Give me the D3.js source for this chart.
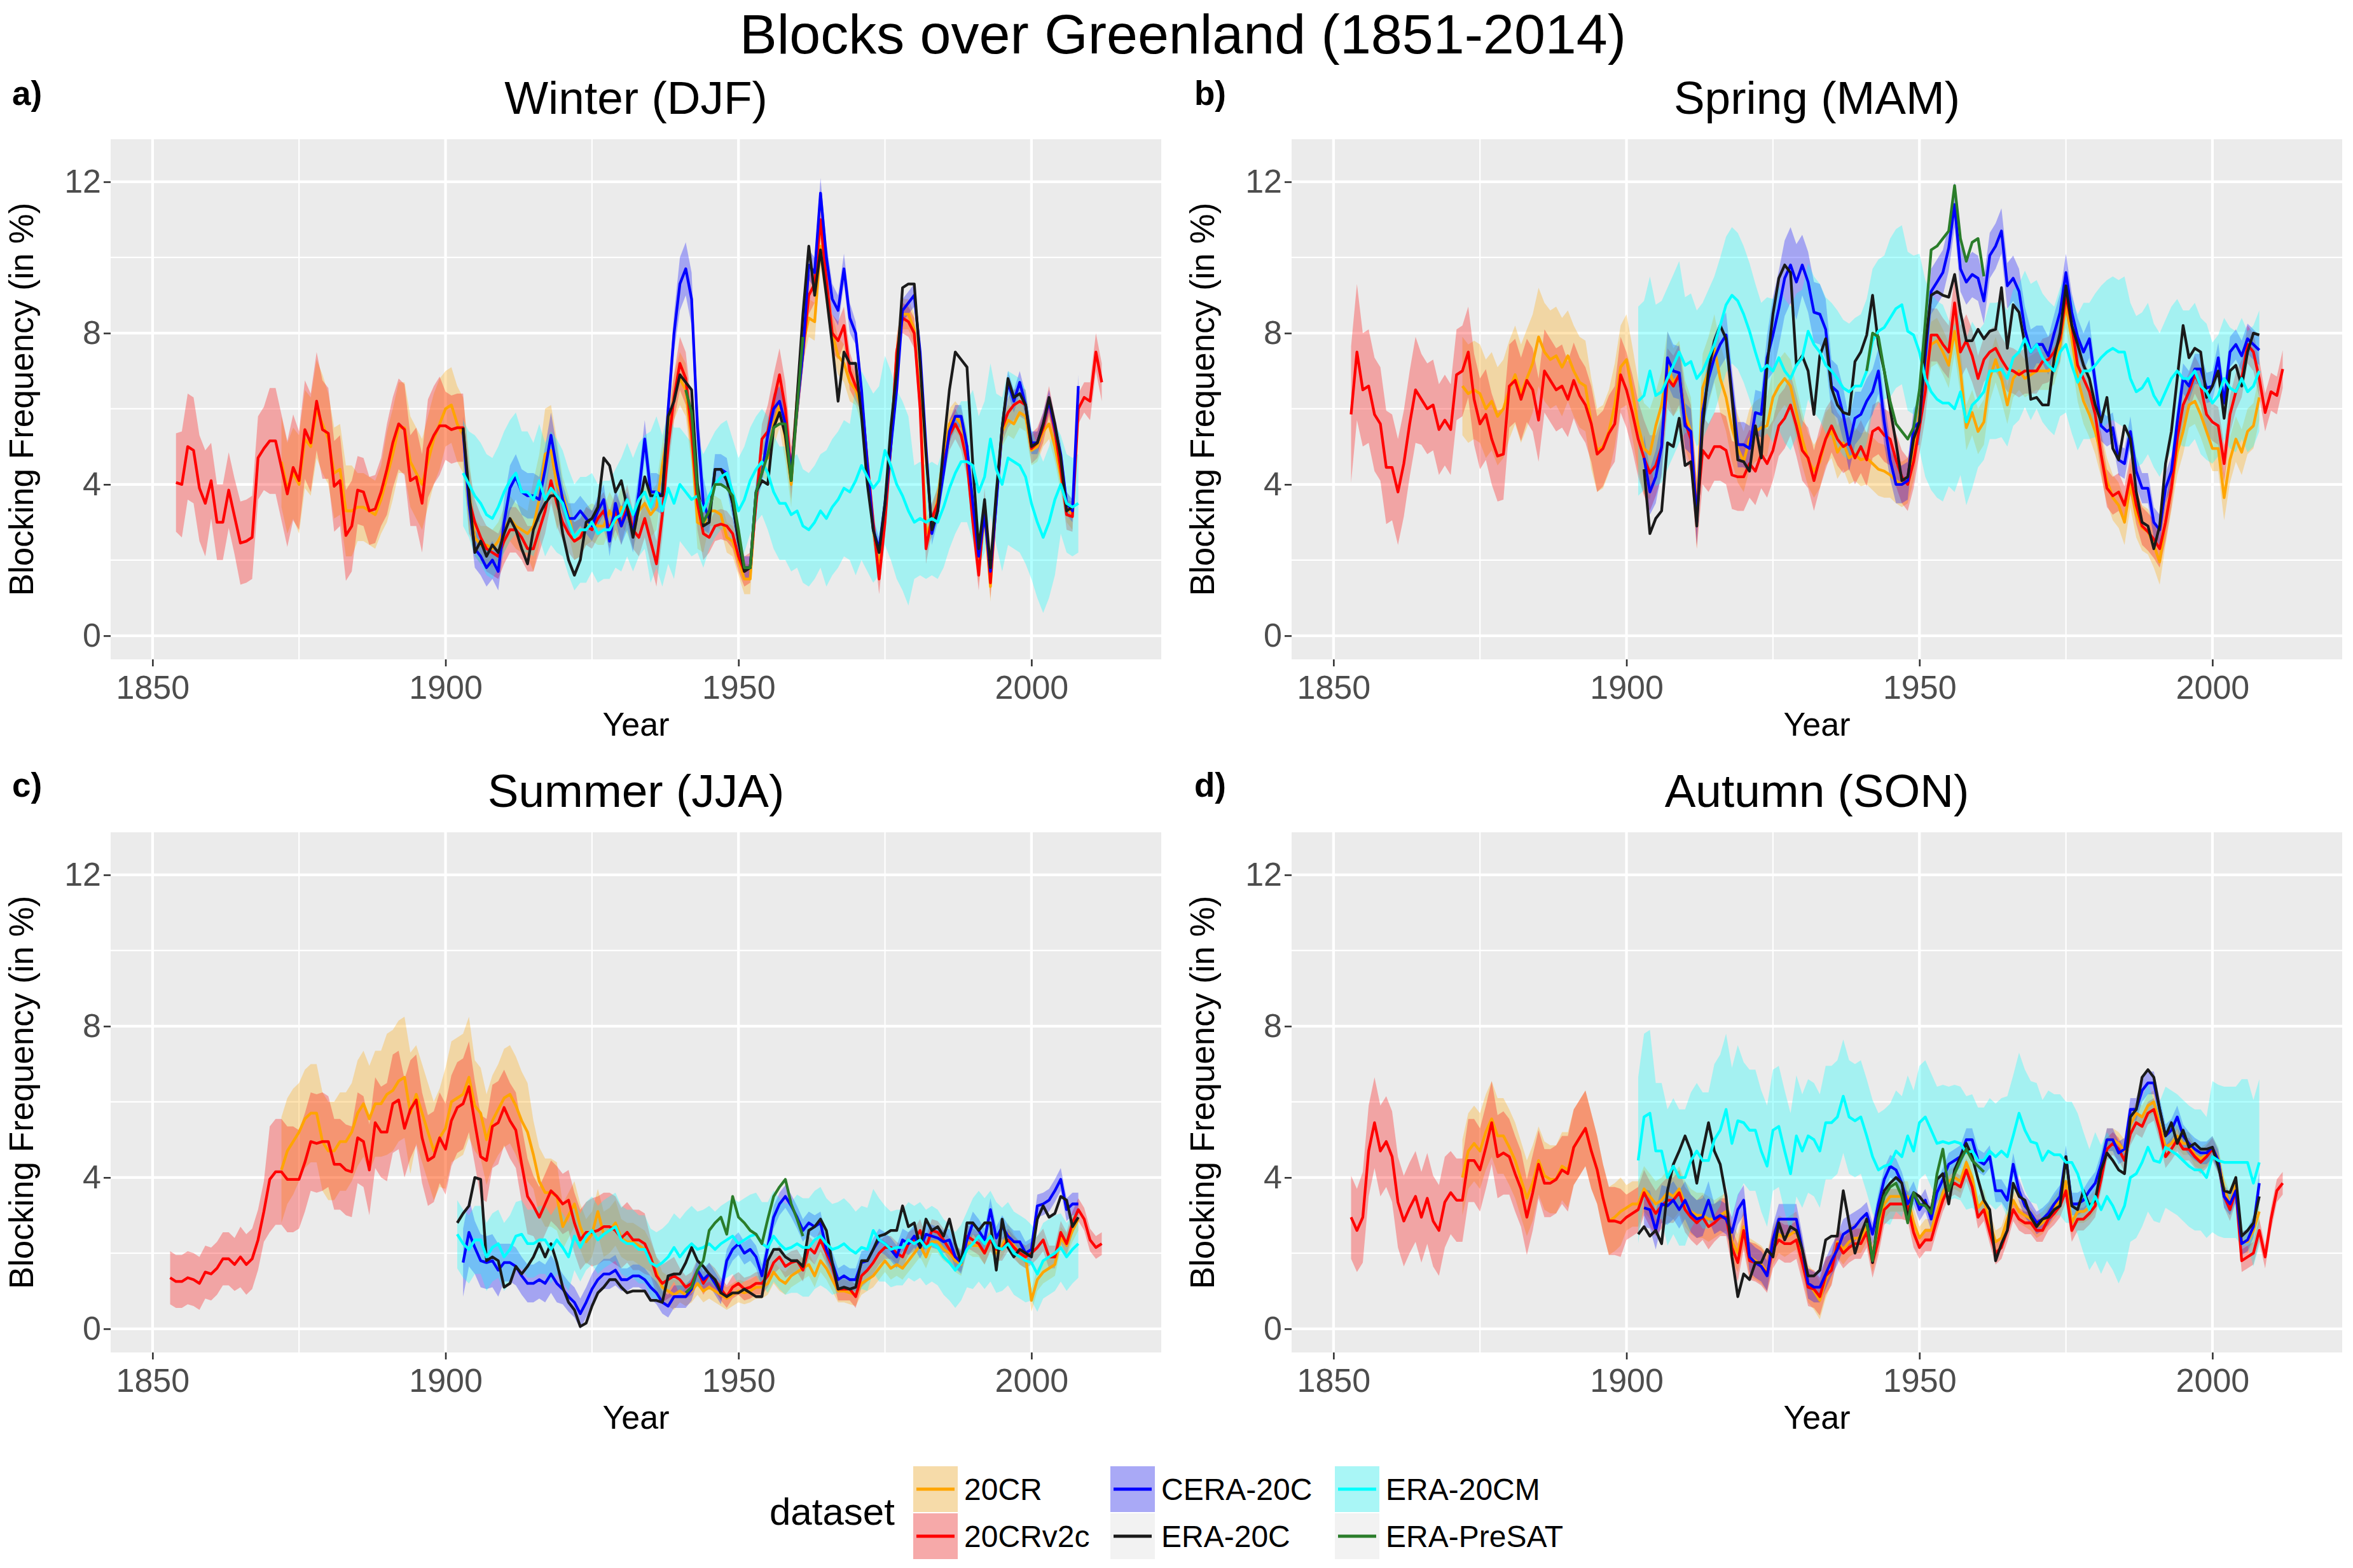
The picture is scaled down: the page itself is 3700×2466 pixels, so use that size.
<!DOCTYPE html>
<html><head><meta charset="utf-8">
<script src="https://cdn.jsdelivr.net/npm/d3@7"></script>
<style>html,body{margin:0;padding:0;background:#fff}svg{display:block}</style>
</head><body>
<svg id="chart" width="3700" height="2466"></svg>
<script>
// ---------------- DATA ----------------
const mainTitle = "Blocks over Greenland (1851-2014)";
const seasons = ["Winter (DJF)", "Spring (MAM)", "Summer (JJA)", "Autumn (SON)"];
const tags = ["a)", "b)", "c)", "d)"];
const datasets = ["20CR", "20CRv2c", "CERA-20C", "ERA-20C", "ERA-20CM", "ERA-PreSAT"];
const xTickLabels = [1850, 1900, 1950, 2000];
const yTickLabels = [0, 4, 8, 12];
const xMinorBreaks = [1875, 1925, 1975];
const yMinorBreaks = [2, 6, 10];
// ribbon half-widths are read per 5-year block, starting with block 1850-1854
const spreadBlockStart = 1850, spreadBlockYears = 5;

// ----- Winter (DJF) -----
const djf_first = [1872, 1854, 1903, 1903, 1903, 1941];
const djf_20cr = [4.6,3.9,4.3,4.0,5.2,5.0,6.0,5.6,5.2,4.3,
4.4,3.3,3.3,3.4,3.4,3.3,3.2,3.6,4.2,4.8,
5.5,5.5,4.6,4.3,4.0,4.6,5.2,5.6,6.0,6.1,
5.6,5.3,3.8,2.6,2.4,2.4,2.3,2.5,2.8,3.1,
2.9,2.8,2.7,2.9,3.6,4.8,4.9,4.0,3.7,3.2,
2.5,2.6,2.9,3.0,2.9,2.9,3.3,3.0,3.4,3.2,
2.8,3.3,3.5,3.2,3.4,4.5,5.5,6.3,6.8,6.5,
5.2,3.0,2.9,3.3,3.3,3.2,2.6,2.5,2.0,1.5,
1.5,3.7,4.6,4.7,5.6,6.1,5.2,4.0,6.3,7.7,
8.4,8.3,10.3,9.2,8.0,7.4,7.2,6.7,6.5,6.0,
4.4,2.8,1.8,3.4,5.0,7.5,8.5,8.5,8.1,6.2,
2.7,3.0,3.6,4.8,5.6,5.8,5.6,5.0,3.4,1.8,
3.2,1.3,3.6,5.4,5.7,5.6,5.9,5.8,4.9,5.0,
5.4,5.6,5.0,4.2,3.4,3.2];
const djf_v2c = [4.05,4.0,5.0,4.9,3.9,3.5,4.1,3.0,3.0,3.85,
3.15,2.45,2.5,2.6,4.7,4.95,5.15,5.15,4.45,3.75,
4.45,4.1,5.45,5.1,6.2,5.45,5.35,3.95,4.1,2.65,
2.9,3.85,3.8,3.3,3.35,3.8,4.4,5.1,5.6,5.45,
4.1,4.2,3.5,4.95,5.3,5.55,5.55,5.45,5.5,5.5,
3.6,3.0,2.6,2.3,2.2,2.1,2.5,2.8,2.8,2.6,
2.3,2.3,2.8,3.3,4.1,3.5,3.0,2.7,2.5,2.6,
2.9,2.8,3.1,3.3,2.8,3.3,2.9,3.5,2.8,2.6,
3.1,2.5,1.9,3.2,5.0,6.3,7.2,6.8,5.4,3.5,
2.7,2.6,2.9,2.95,2.9,2.7,2.1,1.7,1.8,3.5,
5.2,5.4,6.2,6.9,6.0,4.3,6.0,7.5,9.0,9.3,
11.0,9.4,8.0,7.8,8.2,7.0,6.6,6.3,4.6,3.0,
1.5,3.0,5.0,7.5,8.4,8.3,8.0,6.0,2.3,3.1,
3.5,4.5,5.3,5.6,5.3,4.6,3.0,1.6,3.5,1.4,
3.6,5.5,5.9,6.1,6.2,6.1,4.95,5.1,5.5,6.2,
5.4,4.4,3.2,3.15,6.0,6.3,6.2,7.5,6.7];
const djf_cera = [5.4,3.5,2.3,2.1,1.8,2.0,1.7,3.0,3.9,4.2,
3.8,3.7,3.7,3.6,4.4,5.3,4.4,3.6,3.1,3.1,
3.3,3.1,2.9,3.3,3.6,2.5,3.5,2.9,3.3,2.7,
3.8,5.2,3.8,3.8,3.7,6.0,8.0,9.3,9.7,8.9,
5.5,3.5,3.1,4.4,4.4,4.3,3.5,2.5,1.8,1.8,
3.8,4.3,5.3,6.0,6.2,5.6,4.3,6.0,7.5,9.8,
9.6,11.7,10.0,8.9,8.6,9.7,8.4,8.0,6.5,4.5,
2.8,2.3,3.5,5.0,6.5,8.6,8.8,9.0,7.5,5.0,
2.7,3.3,4.3,5.4,5.8,5.8,5.0,3.5,2.1,3.2,
1.7,3.5,5.5,6.7,6.2,6.7,6.1,5.1,5.1,5.6,
6.2,5.5,4.8,3.5,3.3,6.6];
const djf_era20c = [5.5,3.8,2.2,2.5,2.1,2.4,2.2,2.7,3.1,2.8,
2.3,1.9,2.8,3.2,3.5,3.7,3.7,2.7,2.0,1.6,
2.0,3.0,3.1,3.4,4.7,4.5,3.8,4.1,3.4,2.6,
3.4,4.2,3.7,3.7,3.7,5.8,6.2,6.9,6.7,6.5,
4.0,2.9,3.0,4.4,4.4,4.1,3.5,2.5,1.7,1.8,
3.8,4.1,4.0,5.5,5.9,5.3,4.1,6.3,8.5,10.3,
9.0,10.2,9.0,7.7,6.2,7.5,7.2,7.2,5.8,4.0,
2.8,2.2,3.5,5.5,7.0,9.2,9.3,9.3,7.2,4.8,
2.8,3.3,5.0,6.5,7.5,7.3,7.1,4.5,2.3,3.6,
1.8,3.8,5.5,6.8,6.3,6.4,6.1,5.0,5.1,5.6,
6.3,5.6,4.7,3.3,3.4];
const djf_20cm = [4.3,4.0,3.7,3.5,3.2,3.1,3.4,3.8,4.1,4.3,
3.8,3.8,3.6,4.1,3.6,3.9,3.7,3.5,3.0,2.6,
2.8,2.8,3.0,2.7,2.8,2.8,3.1,3.2,3.6,3.2,
3.6,3.8,3.4,3.8,3.3,3.9,3.5,4.0,3.8,3.6,
3.7,3.3,3.7,4.0,4.2,4.3,3.8,3.3,3.6,4.1,
4.4,4.6,4.3,3.8,3.5,3.5,3.2,3.3,2.9,2.8,
3.0,3.3,3.1,3.4,3.6,3.9,3.8,4.1,4.5,4.2,
3.9,4.1,4.9,4.5,4.0,3.7,3.3,3.0,3.1,3.0,
3.1,3.0,3.4,3.9,4.3,4.6,4.6,4.5,3.8,4.2,
5.2,4.4,4.0,4.7,4.6,4.5,4.2,3.5,3.0,2.6,
3.0,3.6,4.0,3.5,3.4,3.5];
const djf_presat = [6.5,5.9,3.8,3.0,3.3,4.0,4.0,3.9,3.7,2.8,1.8,1.8,3.8,4.3,4.8,5.5,5.6,5.6,4.1,6.0,7.9];
const djf_20cr_sp = [0,0,0,0,1.2,1.3,1.2,0.9,1.2,1.2,1.0,0.5,0.6,1.2,0.5,0.5,0.5,0.6,0.7,0.4,0.4,0.6,0.5,0.5,0.4,0.4,0.4,0.4,0.4,0.4,0.4,0.4,0.4];
const djf_v2c_sp = [1.3,1.4,1.0,1.1,1.4,1.3,1.2,0.9,1.2,1.3,0.9,0.6,0.6,0.6,0.5,0.5,0.5,0.6,0.7,0.4,0.4,0.7,0.5,0.5,0.4,0.4,0.4,0.4,0.4,0.4,0.4,0.4,0.5];
const djf_cera_sp = [0,0,0,0,0,0,0,0,0,0,0.4,0.5,0.6,0.6,0.4,0.4,0.5,0.5,0.7,0.4,0.3,0.4,0.4,0.4,0.3,0.3,0.3,0.3,0.3,0.3,0.3,0.3,0.3];
const djf_20cm_sp = [0,0,0,0,0,0,0,0,0,0,1.4,1.6,1.6,1.5,1.4,1.3,1.5,2.0,1.5,1.4,1.4,1.5,1.5,1.8,2.5,2.5,1.5,1.6,2.0,2.3,2.0,1.3,1.3];

// ----- Spring (MAM) -----
const mam_first = [1872, 1853, 1903, 1903, 1902, 1941];
const mam_20cr = [6.6,6.4,6.5,6.4,6.0,6.2,5.8,6.0,6.5,6.9,
6.4,6.8,7.2,7.9,7.5,7.3,7.4,7.1,7.4,7.0,
6.7,6.6,5.6,4.9,5.0,5.4,6.1,7.1,7.3,6.45,
5.55,4.95,4.8,5.55,6.1,7.15,6.7,6.9,5.85,5.4,
3.2,6.55,7.0,7.6,6.8,6.3,5.5,4.95,4.6,5.2,
5.4,5.5,5.55,6.3,6.6,6.8,6.6,5.9,5.2,4.65,
4.35,4.6,5.2,5.4,4.85,5.1,4.7,4.8,4.65,4.7,
4.55,4.4,4.35,4.25,4.1,4.0,4.1,4.7,5.9,7.0,
7.7,7.8,7.5,7.15,8.05,7.0,5.5,5.9,5.4,5.65,
6.8,7.3,6.8,6.1,6.8,7.0,6.8,6.9,7.0,7.0,
7.0,7.15,7.7,8.75,7.85,6.8,6.2,5.85,5.4,4.8,
4.1,3.65,3.45,3.0,4.0,3.2,2.85,2.75,2.4,1.95,
3.0,3.9,4.85,5.4,6.1,6.2,5.85,5.4,4.95,4.95,
3.65,4.65,5.2,4.85,5.4,5.55,6.3];
const mam_v2c = [5.85,7.5,6.5,6.6,5.85,5.6,4.45,4.45,3.8,4.55,
5.6,6.5,6.25,6.0,6.1,5.45,5.7,5.45,6.9,7.0,
7.5,6.25,5.6,5.85,5.2,4.75,4.8,6.6,6.75,6.25,
6.75,6.5,5.7,7.0,6.75,6.5,6.6,6.25,6.75,6.35,
6.1,5.6,4.8,4.95,5.35,5.6,6.9,6.5,5.9,5.2,
4.7,4.3,4.5,5.0,6.8,6.6,6.9,5.65,5.2,3.2,
4.9,4.7,5.0,5.0,4.9,4.25,4.2,4.2,4.55,4.35,
4.8,4.55,4.9,5.55,5.75,6.1,5.55,4.9,4.7,4.1,
4.7,5.2,5.55,5.2,5.0,5.1,4.7,5.0,4.65,5.4,
5.5,5.3,5.2,4.65,4.2,4.0,4.6,5.5,6.45,7.95,
7.95,7.7,7.5,8.8,7.5,7.8,7.4,6.8,7.3,7.5,
7.6,7.3,7.05,7.0,6.9,7.0,7.0,7.0,7.25,7.3,
7.5,7.85,9.0,8.2,7.15,6.8,6.45,5.85,4.8,3.9,
3.7,3.8,3.45,4.25,3.45,2.9,2.75,2.55,2.3,3.0,
3.9,5.2,6.1,6.45,6.9,6.6,5.85,5.65,5.55,4.55,
5.85,6.45,6.8,7.7,7.5,6.8,5.9,6.45,6.35,7.05];
const mam_cera = [4.7,3.8,4.2,5.0,7.35,7.0,6.95,5.55,5.4,3.0,
5.9,6.8,7.35,7.7,7.95,6.45,5.05,5.05,4.95,5.9,
5.85,7.35,7.95,8.65,9.45,9.8,9.35,9.8,9.35,8.55,
8.5,8.1,6.6,6.45,5.85,5.05,5.75,5.85,6.2,6.45,
7.0,5.65,4.65,4.0,4.0,4.1,5.5,5.65,7.35,9.1,
9.35,9.6,10.25,11.4,9.7,9.35,9.55,9.45,8.85,10.05,
10.3,10.7,9.25,9.45,9.1,8.1,7.5,7.7,7.7,7.4,
8.0,8.55,9.6,8.55,7.9,7.5,7.85,6.7,5.55,5.4,
5.5,4.65,4.55,5.4,4.35,3.9,3.9,3.0,2.8,3.9,
4.35,5.65,6.8,6.6,7.05,7.05,6.55,6.6,7.35,6.15,
7.5,7.7,7.4,7.85,7.7,7.55];
const mam_era20c = [4.4,2.7,3.1,3.3,5.1,5.0,5.75,4.5,4.6,2.9,
5.55,7.0,7.8,8.2,7.85,6.3,4.65,4.6,4.35,5.55,
4.7,7.15,8.5,9.45,9.8,9.6,7.15,7.4,7.0,5.85,
7.4,7.85,6.55,6.1,5.9,5.85,7.25,7.5,7.95,9.0,
7.7,7.0,6.0,5.1,4.1,4.2,5.2,5.65,7.7,9.0,
9.1,9.0,8.95,9.55,8.55,7.8,7.8,8.1,7.85,8.05,
8.1,9.2,7.6,8.75,8.55,7.7,6.25,6.3,6.1,6.1,
7.35,8.0,9.25,8.2,7.7,7.15,6.8,6.1,5.65,6.3,
4.95,4.65,5.55,5.2,3.8,3.0,2.9,2.3,2.9,4.55,
5.4,6.8,8.2,7.35,7.6,7.5,6.3,6.6,7.0,5.75,
7.0,7.15,6.6,7.5,8.0,7.95];
const mam_20cm = [6.2,6.35,7.0,6.35,6.45,6.8,7.15,7.5,7.15,7.25,
6.8,7.0,7.35,7.7,8.2,8.75,9.0,8.85,8.5,8.05,
7.5,7.0,7.15,7.0,7.35,7.0,6.8,7.15,7.35,8.05,
7.7,7.5,7.15,7.0,6.8,6.55,6.45,6.6,6.6,7.0,
7.8,8.05,8.15,8.4,8.65,8.75,8.05,7.95,7.5,6.8,
6.45,6.25,6.15,6.15,6.0,6.45,5.65,6.1,6.25,6.45,
7.0,7.0,7.05,6.8,7.35,7.5,7.85,7.5,7.7,7.35,
7.15,7.0,7.5,7.7,7.15,6.7,7.0,7.0,7.15,7.35,
7.5,7.6,7.5,7.5,6.8,6.45,6.55,6.8,6.35,6.1,
6.45,6.8,7.0,6.8,6.8,7.0,6.6,6.45,6.15,6.35,
6.8,6.55,6.45,6.8,6.45,6.6,7.0];
const mam_presat = [7.0,8.0,7.9,7.0,6.2,5.6,5.4,5.2,5.5,6.5,8.3,10.2,10.3,10.5,10.7,11.9,10.5,9.9,10.4,10.5,9.5];
const mam_20cr_sp = [0,0,0,0,1.3,1.3,1.3,1.3,1.2,1.1,1.2,0.9,0.9,0.9,0.8,0.7,0.7,0.7,0.7,0.6,0.6,0.6,0.6,0.5,0.5,0.6,0.6,0.6,0.6,0.6,0.6,0.6,0.6];
const mam_v2c_sp = [1.8,1.5,1.4,1.2,1.2,1.2,1.1,1.1,1.0,1.0,1.0,0.8,0.9,0.9,0.9,0.8,0.8,0.7,0.7,0.7,0.7,0.7,0.6,0.6,0.6,0.5,0.5,0.5,0.5,0.5,0.5,0.5,0.5];
const mam_cera_sp = [0,0,0,0,0,0,0,0,0,0,0.6,0.7,0.6,0.6,0.6,1.0,0.8,0.7,0.6,0.5,0.6,0.6,0.6,0.6,0.5,0.5,0.4,0.4,0.4,0.4,0.4,0.4,0.4];
const mam_20cm_sp = [0,0,0,0,0,0,0,0,0,0,2.5,2.4,1.8,1.8,1.8,1.9,1.8,1.8,1.9,2.1,2.6,2.2,1.8,1.8,1.7,1.8,1.9,2.0,1.9,1.8,1.6,1.6,1.6];

// ----- Summer (JJA) -----
const jja_first = [1872, 1853, 1903, 1902, 1902, 1941];
const jja_20cr = [4.2,4.7,4.95,5.2,5.55,5.7,5.7,4.95,4.7,4.7,
4.95,4.95,5.2,5.7,5.95,5.55,5.95,5.95,6.2,6.3,
6.55,6.65,5.7,6.2,5.7,5.2,4.7,5.05,5.3,6.0,
6.1,6.2,6.65,5.9,5.7,5.0,5.5,5.8,6.1,6.2,
5.9,5.5,5.2,4.6,3.9,3.6,3.6,3.5,2.7,3.0,
3.3,2.7,2.3,2.5,3.1,2.5,2.6,2.8,2.4,2.3,
2.3,2.2,2.1,1.9,1.5,1.1,1.0,0.9,1.0,0.9,
1.0,1.2,1.0,1.1,1.0,0.9,0.8,0.9,1.0,0.95,
1.0,1.1,1.1,1.2,1.5,1.3,1.2,1.4,1.5,1.6,
1.7,1.4,1.8,1.6,1.3,1.0,1.0,0.95,0.9,1.2,
1.3,1.4,1.6,1.8,1.6,1.7,1.6,1.8,2.0,2.2,
1.9,2.3,2.3,2.1,2.0,1.8,1.7,2.3,2.2,2.2,
2.0,2.4,2.0,2.2,2.5,2.2,2.0,1.9,0.75,1.3,
1.5,1.6,1.7,2.4,2.2,2.6,2.9];
const jja_v2c = [1.35,1.25,1.25,1.35,1.3,1.2,1.5,1.45,1.6,1.85,
1.85,1.7,1.9,1.7,1.85,2.35,3.1,3.95,4.15,4.15,
3.95,3.95,3.95,4.4,4.95,4.9,4.95,4.95,4.35,4.35,
4.2,4.15,5.05,4.95,4.2,5.45,5.2,5.2,5.95,6.05,
5.3,5.8,6.05,5.05,4.45,4.55,5.05,4.75,5.5,5.85,
5.95,6.4,5.45,4.55,4.45,5.35,5.45,5.85,5.5,5.25,
4.35,3.5,3.25,2.95,3.3,3.65,3.5,3.3,3.4,2.8,
2.35,2.55,2.55,2.6,2.7,2.7,2.6,2.4,2.55,2.35,
2.35,2.25,1.9,1.4,1.2,1.3,1.4,1.3,1.1,1.2,
1.55,1.2,1.45,1.3,1.05,0.85,1.1,1.2,1.05,1.1,
1.2,1.2,1.4,1.75,1.9,1.65,1.75,1.8,1.55,2.15,
2.0,2.35,2.0,1.65,1.05,1.05,1.05,0.85,1.4,1.55,
1.75,2.0,2.15,2.15,2.0,1.9,2.25,2.35,2.6,2.15,
2.6,2.55,2.35,2.1,1.9,1.8,2.45,2.35,2.25,2.0,
2.35,2.1,2.1,2.35,2.15,2.0,1.9,2.0,2.15,2.35,
1.9,1.9,2.55,2.25,2.8,3.15,2.9,2.35,2.15,2.25];
const jja_cera = [1.75,2.55,2.15,1.8,1.75,1.8,1.55,1.75,1.75,1.65,
1.4,1.2,1.2,1.3,1.2,1.45,1.2,1.05,0.85,0.7,
0.4,0.7,1.05,1.3,1.45,1.45,1.55,1.3,1.3,1.4,
1.4,1.3,1.1,0.95,0.7,0.6,0.85,0.85,0.85,1.05,
1.55,1.3,1.45,1.2,0.95,1.8,2.1,2.25,2.0,2.1,
1.9,1.4,2.15,2.95,3.3,3.5,3.25,2.95,2.6,2.8,
2.7,2.8,2.1,1.75,1.3,1.4,1.3,1.3,1.75,1.8,
2.1,2.35,2.25,2.1,1.9,2.35,2.25,2.45,2.15,2.5,
2.45,2.4,2.3,2.35,1.9,1.75,2.35,2.8,2.6,2.35,
3.15,2.4,2.7,2.45,2.3,2.3,2.0,2.1,3.25,3.3,
3.4,3.65,3.95,3.15,3.3,3.3];
const jja_era20c = [2.8,3.05,3.25,4.0,3.95,1.8,1.9,1.8,1.1,1.2,
1.65,1.45,1.65,1.9,2.25,1.9,2.25,1.75,1.1,0.7,
0.5,0.06,0.15,0.6,0.95,1.1,1.3,1.3,1.1,0.95,
1.0,1.0,1.0,0.75,0.75,0.7,1.4,1.45,1.45,1.75,
2.15,1.8,1.65,1.45,1.3,0.95,0.85,0.95,0.95,1.05,
0.95,0.85,0.85,1.8,2.1,2.1,1.9,1.8,1.8,1.65,
2.6,2.7,2.9,2.6,1.75,1.05,1.1,1.05,1.1,1.8,
1.8,2.1,2.45,2.5,2.6,2.6,3.25,2.7,2.8,2.15,
2.9,2.6,2.7,2.45,2.9,2.25,1.75,2.8,2.8,2.6,
2.8,2.8,1.55,2.9,2.15,1.9,2.1,2.0,1.9,2.9,
3.25,2.95,3.05,3.5,3.4,2.7,2.95];
const jja_20cm = [2.5,2.25,2.1,2.35,2.35,1.9,2.15,2.25,1.9,2.1,
2.45,2.5,2.25,2.25,2.35,2.35,2.1,2.35,2.15,1.9,
2.45,2.15,2.45,2.6,2.35,2.5,2.6,2.7,2.35,2.25,
2.25,2.1,2.1,1.75,1.65,1.75,1.9,2.15,1.9,2.1,
2.25,2.1,2.15,2.25,2.1,2.25,2.35,2.45,2.25,2.35,
2.45,2.5,2.25,2.15,2.45,2.25,2.1,2.15,2.25,2.15,
2.15,2.35,2.45,2.25,2.1,2.15,2.25,2.1,2.0,2.15,
2.1,2.6,2.35,2.25,2.1,2.15,2.15,2.35,2.25,2.35,
2.15,2.25,2.15,1.9,1.75,1.55,1.75,2.1,2.25,2.45,
2.25,2.45,2.15,2.1,2.25,2.0,1.9,1.8,1.75,1.45,
1.8,1.9,2.0,2.15,1.9,2.1,2.25];
const jja_presat = [0.95,1.1,1.55,1.8,2.6,2.8,2.95,2.5,3.5,2.95,2.8,2.6,2.5,2.25,2.9,3.5,3.75,3.95,3.3,2.9,2.45];
const jja_20cr_sp = [0,0,0,0,1.4,1.3,1.3,1.4,1.6,1.3,1.6,1.2,1.3,0.9,0.6,0.6,0.5,0.4,0.3,0.3,0.3,0.3,0.3,0.3,0.3,0.3,0.3,0.3,0.3,0.3,0.3,0.3,0.3];
const jja_v2c_sp = [0.7,0.7,0.7,0.8,1.4,1.3,1.2,1.2,1.3,1.2,1.2,1.1,1.0,0.8,0.8,0.9,0.8,0.5,0.3,0.3,0.3,0.3,0.3,0.3,0.3,0.3,0.3,0.3,0.3,0.3,0.3,0.3,0.3];
const jja_cera_sp = [0,0,0,0,0,0,0,0,0,0,0.9,0.7,0.5,0.5,0.4,0.4,0.3,0.3,0.3,0.3,0.3,0.3,0.3,0.3,0.3,0.3,0.3,0.3,0.3,0.3,0.3,0.3,0.3];
const jja_20cm_sp = [0,0,0,0,0,0,0,0,0,0,0.9,0.9,0.9,0.9,0.9,0.9,0.9,0.9,1.0,1.0,1.1,1.2,1.3,1.2,1.1,1.0,1.0,1.0,1.2,1.1,1.0,0.9,0.9];

// ----- Autumn (SON) -----
const son_first = [1872, 1853, 1903, 1902, 1902, 1941];
const son_20cr = [4.0,4.7,4.9,4.7,5.2,5.55,5.1,5.1,4.8,4.45,
3.95,3.45,3.85,4.45,4.05,3.95,3.95,4.3,4.2,4.8,
5.05,5.3,4.7,4.2,3.45,2.85,2.95,3.1,3.2,3.3,
3.3,3.7,3.5,3.3,3.4,3.6,3.5,3.7,3.3,3.1,
3.0,3.0,2.9,2.9,3.0,3.1,2.3,2.0,2.7,1.9,
1.8,1.7,1.5,2.2,2.5,2.4,2.5,2.6,1.9,1.2,
1.0,0.75,1.3,1.6,2.3,2.1,2.3,2.4,2.4,2.7,
1.9,2.5,3.3,3.5,3.5,3.5,3.5,2.8,2.4,2.6,
2.6,3.1,3.6,3.9,4.0,3.9,4.4,4.0,3.2,3.4,
2.8,2.3,2.4,2.9,3.4,3.1,3.0,2.9,2.7,2.8,
3.0,3.2,3.4,3.9,2.8,3.1,3.1,3.2,3.4,4.2,
5.0,5.0,4.9,4.7,5.4,5.7,5.6,5.9,6.0,5.4,
4.8,4.9,5.1,4.9,4.9,4.6,4.5,4.6,4.8,4.5,
3.7,3.3,3.8,2.3,2.3,2.6,3.1];
const son_v2c = [2.95,2.6,2.95,4.7,5.45,4.7,4.95,4.55,3.35,2.85,
3.2,3.5,2.95,3.45,2.85,2.6,3.35,3.6,3.4,3.4,
4.45,4.45,4.2,4.8,5.45,4.55,4.65,4.55,4.1,3.7,
2.95,3.6,4.35,3.85,3.85,3.95,4.2,4.1,4.8,5.05,
5.3,4.7,4.2,3.45,2.85,2.85,2.8,2.95,3.05,3.15,
3.6,3.3,3.05,3.25,3.4,3.4,3.6,3.15,2.95,2.8,
2.95,2.7,2.8,2.95,2.95,2.15,1.75,2.6,1.8,1.75,
1.65,1.45,2.1,2.35,2.25,2.25,2.35,1.75,1.1,1.05,
0.85,1.4,1.55,2.25,2.0,2.15,2.25,2.25,2.55,1.75,
2.35,3.15,3.3,3.3,3.3,3.25,2.55,2.15,2.35,2.35,
2.9,3.4,3.75,3.85,3.75,4.2,3.75,2.95,3.15,2.55,
2.0,2.15,2.6,3.15,2.9,2.8,2.8,2.6,2.6,2.9,
3.05,3.25,3.65,2.6,2.9,2.9,3.05,3.25,3.95,4.75,
4.9,4.75,4.45,5.15,5.45,5.35,5.7,5.8,5.25,4.55,
4.75,5.0,4.75,4.75,4.55,4.4,4.55,4.75,4.4,3.5,
3.15,3.65,1.8,1.9,2.0,2.6,1.9,2.9,3.65,3.85];
const son_cera = [3.2,3.15,2.6,3.3,3.25,3.4,3.15,3.4,3.05,2.9,
2.95,3.4,2.9,3.0,2.9,2.55,3.15,3.4,1.9,1.75,
1.65,1.4,2.35,2.9,2.9,2.9,2.9,2.1,1.2,1.1,
1.1,1.45,1.8,2.1,2.5,2.6,2.7,2.9,3.05,2.5,
3.3,3.95,4.3,4.2,3.85,3.3,3.6,3.15,3.4,2.9,
3.6,3.95,4.35,4.45,4.55,5.0,5.0,4.45,4.35,4.55,
3.65,3.65,3.4,4.35,3.65,3.25,3.05,2.8,2.9,3.05,
3.3,3.5,4.55,3.3,3.3,3.4,3.65,3.85,4.35,5.0,
5.0,4.65,4.75,5.8,5.8,6.3,6.5,6.5,5.8,5.1,
5.25,5.6,5.1,4.9,4.75,4.65,4.65,4.8,4.45,3.5,
3.3,3.65,2.25,2.35,2.7,3.85];
const son_era20c = [2.5,2.7,2.45,2.6,2.25,3.65,4.35,4.7,5.1,4.7,
3.85,4.7,5.45,4.7,4.35,3.5,1.9,0.85,1.45,1.3,
1.75,1.75,2.1,1.9,2.8,2.35,2.7,2.6,2.1,1.4,
1.4,1.55,2.35,2.45,2.45,3.65,2.8,2.0,2.5,2.9,
1.75,3.05,3.65,3.85,4.0,3.85,2.9,3.6,3.5,3.3,
3.15,3.95,4.1,3.3,4.2,4.55,4.9,4.55,3.95,3.4,
3.15,1.8,2.25,2.6,3.85,3.5,3.4,2.95,2.7,2.9,
2.95,3.15,3.25,4.55,3.25,3.15,3.65,3.25,3.4,4.2,
4.65,4.45,4.2,4.1,5.6,5.8,6.65,6.85,6.65,5.8,
5.1,5.45,4.9,5.25,4.8,4.9,4.75,4.75,4.8,4.3,
3.65,3.6,4.0,2.45,2.6,2.8,3.5];
const son_20cm = [4.45,5.6,5.7,4.7,4.7,4.0,4.3,4.0,4.0,4.45,
4.7,4.45,4.45,5.0,5.25,5.8,4.9,5.5,5.45,5.25,
5.25,4.7,4.3,5.25,5.35,4.7,4.1,5.1,4.7,5.1,
5.0,4.7,5.45,5.45,5.6,6.15,5.6,5.5,5.6,5.1,
4.55,4.2,4.3,4.35,4.7,4.55,5.1,4.7,5.45,5.6,
5.25,4.9,4.95,4.9,4.95,4.9,4.65,4.7,4.45,4.45,
4.7,4.55,4.7,4.55,5.1,5.7,5.25,4.95,4.9,4.45,
4.7,4.6,4.6,4.4,4.4,4.1,3.6,3.15,3.5,3.15,
3.5,3.25,2.9,3.25,4.0,4.1,4.4,4.8,4.45,4.4,
4.8,4.7,4.6,4.45,4.3,4.2,4.2,4.0,4.55,4.45,
4.4,4.4,4.4,4.4,4.4,3.85,4.4];
const son_presat = [2.8,1.8,2.9,3.5,3.75,3.85,3.5,2.8,3.6,3.3,3.25,3.05,4.1,4.75,3.65,4.1,4.45,4.75,4.45,4.3,4.15];
const son_20cr_sp = [0,0,0,0,1.0,1.0,1.0,0.9,1.0,0.9,0.6,0.6,0.6,0.5,0.5,0.5,0.5,0.4,0.4,0.4,0.3,0.3,0.3,0.3,0.3,0.3,0.3,0.3,0.3,0.3,0.3,0.3,0.3];
const son_v2c_sp = [1.1,1.2,1.2,1.2,1.1,1.1,1.0,0.9,1.0,0.9,0.6,0.6,0.6,0.5,0.5,0.5,0.5,0.4,0.4,0.4,0.3,0.3,0.3,0.3,0.3,0.3,0.3,0.3,0.3,0.3,0.3,0.3,0.3];
const son_cera_sp = [0,0,0,0,0,0,0,0,0,0,0.5,0.5,0.5,0.4,0.4,0.4,0.4,0.4,0.3,0.3,0.3,0.3,0.3,0.3,0.3,0.3,0.3,0.3,0.3,0.3,0.3,0.3,0.3];
const son_20cm_sp = [0,0,0,0,0,0,0,0,0,0,2.2,1.8,1.8,2.0,1.6,1.6,1.5,1.5,1.5,1.6,1.5,1.5,1.4,1.6,1.6,1.6,1.7,1.7,1.6,1.6,2.0,2.2,2.2];

// ---------------- TABLE BUILT FROM THE ARRAYS ----------------
const seasonTable = [
  {first: djf_first, values: [djf_20cr, djf_v2c, djf_cera, djf_era20c, djf_20cm, djf_presat],
   spread: [djf_20cr_sp, djf_v2c_sp, djf_cera_sp, null, djf_20cm_sp, null]},
  {first: mam_first, values: [mam_20cr, mam_v2c, mam_cera, mam_era20c, mam_20cm, mam_presat],
   spread: [mam_20cr_sp, mam_v2c_sp, mam_cera_sp, null, mam_20cm_sp, null]},
  {first: jja_first, values: [jja_20cr, jja_v2c, jja_cera, jja_era20c, jja_20cm, jja_presat],
   spread: [jja_20cr_sp, jja_v2c_sp, jja_cera_sp, null, jja_20cm_sp, null]},
  {first: son_first, values: [son_20cr, son_v2c, son_cera, son_era20c, son_20cm, son_presat],
   spread: [son_20cr_sp, son_v2c_sp, son_cera_sp, null, son_20cm_sp, null]}
];

// ---------------- STYLE & LAYOUT ----------------
const lineColor = {"20CR":"#FFA500","20CRv2c":"#FF0000","CERA-20C":"#0000FF","ERA-20C":"#1a1a1a","ERA-20CM":"#00FFFF","ERA-PreSAT":"#2a7d2a"};
const FONT = "'Liberation Sans', Arial, Helvetica, sans-serif";
const W = 3700, H = 2466;
const panelLeft = [174, 2031], panelTop = [219, 1309], PW = 1652, PH = 818;
const xDom = [1851 - 0.05 * 163, 2014 + 0.05 * 163];
const yDom = [-0.625, 13.125];
const RIB_ALPHA = 0.3, LINE_W = 4.3;

const svg = d3.select("#chart");
svg.append("rect").attr("width", W).attr("height", H).attr("fill", "#ffffff");

svg.append("text").attr("x", 1860).attr("y", 84).attr("text-anchor", "middle")
  .attr("font-family", FONT).attr("font-size", 88).attr("fill", "#000").text(mainTitle);

seasons.forEach((title, p) => {
  const col = p % 2, row = Math.floor(p / 2);
  const x0 = panelLeft[col], y0 = panelTop[row];
  const x = d3.scaleLinear().domain(xDom).range([x0, x0 + PW]);
  const y = d3.scaleLinear().domain(yDom).range([y0 + PH, y0]);
  const g = svg.append("g");

  g.append("rect").attr("x", x0).attr("y", y0).attr("width", PW).attr("height", PH).attr("fill", "#EBEBEB");
  g.selectAll(null).data(xMinorBreaks).join("line")
    .attr("x1", d => x(d)).attr("x2", d => x(d)).attr("y1", y0).attr("y2", y0 + PH)
    .attr("stroke", "#fff").attr("stroke-width", 2.1);
  g.selectAll(null).data(yMinorBreaks).join("line")
    .attr("y1", d => y(d)).attr("y2", d => y(d)).attr("x1", x0).attr("x2", x0 + PW)
    .attr("stroke", "#fff").attr("stroke-width", 2.1);
  g.selectAll(null).data(xTickLabels).join("line")
    .attr("x1", d => x(d)).attr("x2", d => x(d)).attr("y1", y0).attr("y2", y0 + PH)
    .attr("stroke", "#fff").attr("stroke-width", 4.2);
  g.selectAll(null).data(yTickLabels).join("line")
    .attr("y1", d => y(d)).attr("y2", d => y(d)).attr("x1", x0).attr("x2", x0 + PW)
    .attr("stroke", "#fff").attr("stroke-width", 4.2);

  const clipId = "clip" + p;
  svg.append("clipPath").attr("id", clipId).append("rect")
    .attr("x", x0).attr("y", y0).attr("width", PW).attr("height", PH);
  const plot = g.append("g").attr("clip-path", `url(#${clipId})`);

  const tbl = seasonTable[p];
  const series = datasets.map((name, i) => {
    const sp = tbl.spread[i];
    return {
      name, ribbon: !!sp,
      pts: tbl.values[i].map((v, k) => {
        const yr = tbl.first[i] + k;
        const s = sp ? sp[Math.floor((yr - spreadBlockStart) / spreadBlockYears)] : 0;
        return {yr, v, s};
      })
    };
  });

  const area = d3.area().x(d => x(d.yr)).y0(d => y(d.v - d.s)).y1(d => y(d.v + d.s));
  series.filter(s => s.ribbon).forEach(s => {
    plot.append("path").datum(s.pts).attr("d", area)
      .attr("fill", lineColor[s.name]).attr("fill-opacity", RIB_ALPHA).attr("stroke", "none");
  });
  const line = d3.line().x(d => x(d.yr)).y(d => y(d.v));
  series.forEach(s => {
    plot.append("path").datum(s.pts).attr("d", line)
      .attr("fill", "none").attr("stroke", lineColor[s.name]).attr("stroke-width", LINE_W)
      .attr("stroke-linejoin", "round").attr("stroke-linecap", "butt");
  });

  const ax = g.append("g").attr("transform", `translate(0,${y0 + PH})`)
    .call(d3.axisBottom(x).tickValues(xTickLabels).tickFormat(d3.format("d")).tickSize(11).tickPadding(14));
  const ay = g.append("g").attr("transform", `translate(${x0},0)`)
    .call(d3.axisLeft(y).tickValues(yTickLabels).tickFormat(d3.format("d")).tickSize(11).tickPadding(4));
  [ax, ay].forEach(a => {
    a.select(".domain").remove();
    a.selectAll(".tick line").attr("stroke", "#333333").attr("stroke-width", 2.6);
    a.selectAll(".tick text").attr("fill", "#4D4D4D").attr("font-family", FONT).attr("font-size", 52);
  });

  g.append("text").attr("x", x0 + PW / 2).attr("y", y0 + PH + 120).attr("text-anchor", "middle")
    .attr("font-family", FONT).attr("font-size", 52).attr("fill", "#000").text("Year");
  g.append("text").attr("transform", `translate(${x0 - 122},${y0 + PH / 2}) rotate(-90)`)
    .attr("text-anchor", "middle").attr("font-family", FONT).attr("font-size", 53)
    .attr("fill", "#000").text("Blocking Frequency (in %)");
  g.append("text").attr("x", x0 + PW / 2).attr("y", y0 - 40).attr("text-anchor", "middle")
    .attr("font-family", FONT).attr("font-size", 73).attr("fill", "#000").text(title);
  g.append("text").attr("x", col === 0 ? 19 : 1878).attr("y", row === 0 ? 165 : 1253)
    .attr("font-family", FONT).attr("font-size", 53).attr("font-weight", "bold")
    .attr("fill", "#000").text(tags[p]);
});

// ---------------- LEGEND ----------------
const leg = svg.append("g");
leg.append("text").attr("x", 1210).attr("y", 2398).attr("font-family", FONT)
  .attr("font-size", 60).attr("fill", "#000").text("dataset");
const keyX = [1436, 1746, 2099], keyY = [2306, 2380], KW = 70, KH = 72;
datasets.forEach((name, i) => {
  const c = Math.floor(i / 2), r = i % 2;
  const kx = keyX[c], ky = keyY[r];
  leg.append("rect").attr("x", kx).attr("y", ky).attr("width", KW).attr("height", KH).attr("fill", "#F2F2F2");
  if (seasonTable[0].spread[i]) {
    leg.append("rect").attr("x", kx).attr("y", ky).attr("width", KW).attr("height", KH)
      .attr("fill", lineColor[name]).attr("fill-opacity", RIB_ALPHA);
  }
  leg.append("line").attr("x1", kx + 5).attr("x2", kx + KW - 5).attr("y1", ky + KH / 2).attr("y2", ky + KH / 2)
    .attr("stroke", lineColor[name]).attr("stroke-width", LINE_W + 0.5);
  leg.append("text").attr("x", kx + 80).attr("y", ky + KH / 2 + 17).attr("font-family", FONT)
    .attr("font-size", 48).attr("fill", "#000").text(name);
});
</script>
</body></html>
